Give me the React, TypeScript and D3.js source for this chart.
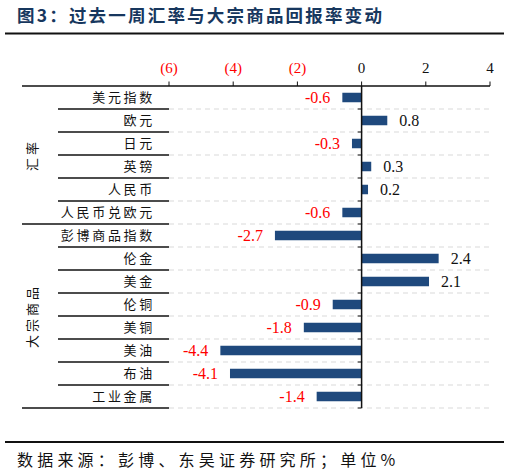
import React from "react"
import * as d3 from "d3"

const categories = [
  "美元指数", "欧元", "日元", "英镑", "人民币", "人民币兑欧元",
  "彭博商品指数", "伦金", "美金", "伦铜", "美铜", "美油", "布油", "工业金属",
]
const values = [-0.6, 0.8, -0.3, 0.3, 0.2, -0.6, -2.7, 2.4, 2.1, -0.9, -1.8, -4.4, -4.1, -1.4]
const groups = [
  { name: "汇率", from: 0, to: 5 },
  { name: "大宗商品", from: 6, to: 13 },
]
const ticks = [-6, -4, -2, 0, 2, 4]

const W = 510
const H = 476
const top = 86
const bottom = 408
const labelLeft = 58
const groupLeft = 22
const plotLeft = 169
const plotRight = 490

const SERIF = "'Liberation Serif', 'Times New Roman', serif"
const CJK = "'Noto Sans CJK SC', sans-serif"
const BAR = "#1f497d"

const fmtTick = (v: number) => (v < 0 ? `(${Math.abs(v)})` : `${v}`)

export default function App() {
  const x = d3.scaleLinear().domain([-6, 4]).range([plotLeft, plotRight])
  const y = d3.scaleBand().domain(categories).range([top, bottom])
  const barH = 9.5
  const x0 = x(0)
  const bounds = d3.range(categories.length + 1).map((i) => top + i * y.step())
  const groupEnds = new Set(groups.map((g) => g.to + 1))

  return (
    <svg width={W} height={H} style={{ position: "absolute", left: 0, top: 0, background: "#fff" }}>
      {/* title */}
      <text x={17} y={22} fontFamily={CJK} fontSize={17.5} fontWeight={700} fill="#17375e" letterSpacing={2.2}>
        图3：过去一周汇率与大宗商品回报率变动
      </text>
      <line x1={5} x2={504} y1={33.5} y2={33.5} stroke="#111" strokeWidth={2} />

      {/* top axis */}
      <line x1={groupLeft} x2={plotRight} y1={top} y2={top} stroke="#111" strokeWidth={1.3} />
      {ticks.map((t) => (
        <g key={t}>
          <line x1={x(t)} x2={x(t)} y1={top} y2={top - 4.5} stroke="#111" strokeWidth={1} />
          <text
            x={x(t)}
            y={top - 13}
            textAnchor="middle"
            fontFamily={SERIF}
            fontSize={15}
            fill={t < 0 ? "#ff0000" : "#111"}
          >
            {fmtTick(t)}
          </text>
        </g>
      ))}

      {/* row separators */}
      {bounds.slice(1).map((b, i) => {
        const isGroup = groupEnds.has(i + 1)
        return (
          <g key={i}>
            <line x1={isGroup ? groupLeft : labelLeft} x2={plotLeft} y1={b} y2={b} stroke="#111" strokeWidth={1.3} />
            <line x1={plotLeft} x2={plotRight} y1={b} y2={b} stroke="#d9d9d9" strokeWidth={1} strokeDasharray="5,4" />
            <line x1={x0 - 4} x2={x0} y1={b} y2={b} stroke="#111" strokeWidth={1} />
          </g>
        )
      })}

      {/* category labels */}
      {categories.map((c) => (
        <text
          key={c}
          x={155}
          y={(y(c) ?? 0) + y.bandwidth() / 2 + 4.5}
          textAnchor="end"
          fontFamily={CJK}
          fontSize={13}
          letterSpacing={2.7}
          fill="#111"
        >
          {c}
        </text>
      ))}

      {/* group labels */}
      {groups.map((g) => {
        const cy = (bounds[g.from] + bounds[g.to + 1]) / 2
        return (
          <text
            key={g.name}
            transform={`translate(37,${cy}) rotate(-90)`}
            textAnchor="middle"
            fontFamily={CJK}
            fontSize={13}
            letterSpacing={3}
            fill="#111"
          >
            {g.name}
          </text>
        )
      })}

      {/* bars */}
      {categories.map((c, i) => {
        const v = values[i]
        const cy = (y(c) ?? 0) + y.bandwidth() / 2
        const bx = Math.min(x(v), x0)
        const bw = Math.abs(x(v) - x0)
        return (
          <g key={c}>
            <rect x={bx} y={cy - barH / 2} width={bw} height={barH} fill={BAR} />
            <text
              x={v < 0 ? x(v) - 12 : x(v) + 12}
              y={cy + 5.5}
              textAnchor={v < 0 ? "end" : "start"}
              fontFamily={SERIF}
              fontSize={16}
              fill={v < 0 ? "#ff0000" : "#111"}
            >
              {v.toFixed(1)}
            </text>
          </g>
        )
      })}

      {/* zero line */}
      <line x1={x0} x2={x0} y1={top} y2={bottom} stroke="#111" strokeWidth={1.5} />

      {/* footer */}
      <line x1={5} x2={504} y1={442} y2={442} stroke="#111" strokeWidth={2} />
      <text x={17} y={466} fontFamily={CJK} fontSize={16} letterSpacing={4.2} fill="#111">
        数据来源：彭博、东吴证券研究所；单位%
      </text>
    </svg>
  )
}
